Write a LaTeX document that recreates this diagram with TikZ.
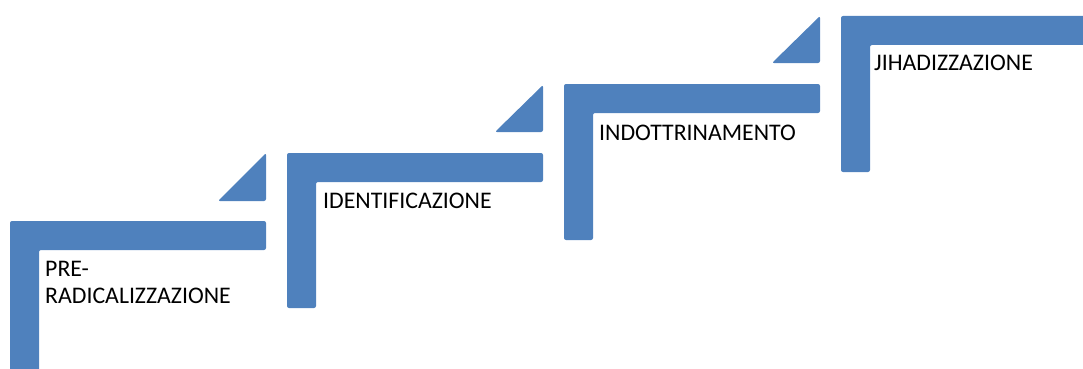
\documentclass[tikz,border=0pt]{standalone}
\usepackage{fontspec}
\setmainfont{Carlito}
\definecolor{stepblue}{RGB}{79,129,189}

\begin{document}
\begin{tikzpicture}[x=1pt, y=-1pt,
  stepbar/.style={fill=stepblue, rounded corners=2pt},
  steplabel/.style={anchor=north west, inner sep=0pt, align=left,
    font=\fontsize{23.8}{27}\selectfont}]

\useasboundingbox (0,0) rectangle (1083,369);

% Step 1
\fill[stepbar] (10,221) -- (266,221) -- (266,250) -- (39,250) -- (39,376) -- (10,376) -- cycle;
\fill[stepbar] (218,201) -- (266,153) -- (266,201) -- cycle;
\node[steplabel] (pre) at (45,261.5) {PRE-\\RADICALIZZAZIONE};

% Step 2
\fill[stepbar] (287,153) -- (543,153) -- (543,182) -- (316,182) -- (316,308) -- (287,308) -- cycle;
\fill[stepbar] (495,132) -- (543,85) -- (543,132) -- cycle;
\node[steplabel] (ident) at (323,193) {IDENTIFICAZIONE};

% Step 3
\fill[stepbar] (564,84) -- (820,84) -- (820,113) -- (593,113) -- (593,240) -- (564,240) -- cycle;
\fill[stepbar] (772,63) -- (820,16) -- (820,63) -- cycle;
\node[steplabel] (indott) at (599,124.5) {INDOTTRINAMENTO};

% Step 4
\fill[stepbar] (841,16) -- (1097,16) -- (1097,45) -- (870,45) -- (870,172) -- (841,172) -- cycle;
\node[steplabel] (jihad) at (874,55) {JIHADIZZAZIONE};

\end{tikzpicture}
\end{document}
